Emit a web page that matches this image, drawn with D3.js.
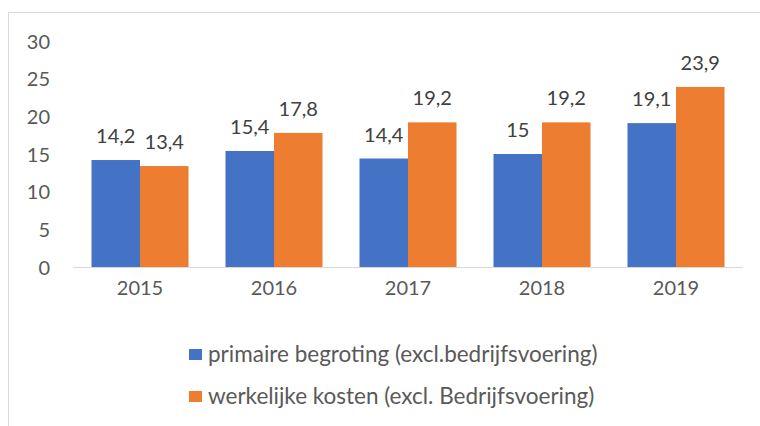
<!DOCTYPE html>
<html lang="nl">
<head>
<meta charset="utf-8">
<title>Begroting vs kosten</title>
<script src="https://cdn.jsdelivr.net/npm/d3@7"></script>
<style>
  body { margin: 0; background: #fff; }
  svg text { font-family: Lato, "Open Sans", sans-serif; }
  .tick text { fill: #595959; font-size: 20px; }
  .label { fill: #404040; font-size: 20px; text-anchor: middle; }
  .legend text { fill: #595959; font-size: 22.5px; }
</style>
</head>
<body>
<div id="chart"></div>
<script>
// data
var years = ["2015", "2016", "2017", "2018", "2019"];
var primair = [14.2, 15.4, 14.4, 15, 19.1];
var werkelijk = [13.4, 17.8, 19.2, 19.2, 23.9];
var seriesNames = ["primaire begroting (excl.bedrijfsvoering)", "werkelijke kosten (excl. Bedrijfsvoering)"];
var yTicks = [0, 5, 10, 15, 20, 25, 30];

var W = 760, H = 426;
var margin = {top: 41, left: 73, right: 17, bottom: 159};
var width = W - margin.left - margin.right;
var height = H - margin.top - margin.bottom;

var colors = ["#4472C4", "#ED7D31"];
var fmt = function(v) { return String(v).replace(".", ","); };

var svg = d3.select("#chart").append("svg")
  .attr("width", W).attr("height", H);

// outer frame (runs off the right and bottom edges)
svg.append("rect")
  .attr("x", 8.5).attr("y", 12.5)
  .attr("width", W + 20).attr("height", H + 20)
  .attr("fill", "none").attr("stroke", "#d9d9d9");

var g = svg.append("g").attr("transform", "translate(" + margin.left + "," + margin.top + ")");

var x = d3.scaleBand().domain(years).range([0, width]).paddingInner(0.276).paddingOuter(0.138);
var xs = d3.scaleBand().domain([0, 1]).range([0, x.bandwidth()]);
var y = d3.scaleLinear().domain([0, 30]).range([height, 0]);

// y axis, labels only
var yAxis = g.append("g")
  .call(d3.axisLeft(y).tickValues(yTicks).tickSize(0).tickPadding(23));
yAxis.select(".domain").remove();
yAxis.selectAll(".tick text").attr("dy", "0.35em");

// x axis
var xAxis = g.append("g")
  .attr("transform", "translate(0," + height + ")")
  .call(d3.axisBottom(x).tickSize(0).tickPadding(14));
xAxis.select(".domain").remove();

var rows = years.map(function(yr, i) { return {year: yr, vals: [primair[i], werkelijk[i]]}; });

var groups = g.selectAll(".yr").data(rows).enter().append("g")
  .attr("transform", function(d) { return "translate(" + x(d.year) + ",0)"; });

groups.selectAll("rect").data(function(d) { return d.vals; }).enter().append("rect")
  .attr("x", function(d, i) { return xs(i); })
  .attr("width", xs.bandwidth())
  .attr("y", function(d) { return y(d); })
  .attr("height", function(d) { return height - y(d); })
  .attr("fill", function(d, i) { return colors[i]; });

groups.selectAll(".label").data(function(d) { return d.vals; }).enter().append("text")
  .attr("class", "label")
  .attr("x", function(d, i) { return xs(i) + xs.bandwidth() / 2; })
  .attr("y", function(d) { return y(d) - 17; })
  .text(fmt);

// baseline
g.append("line")
  .attr("x1", 0).attr("x2", width)
  .attr("y1", height + 0.5).attr("y2", height + 0.5)
  .attr("stroke", "#d9d9d9").attr("stroke-width", 1);

// legend
var legend = svg.append("g").attr("class", "legend");
var items = legend.selectAll("g").data(seriesNames).enter().append("g")
  .attr("transform", function(d, i) { return "translate(189," + (349 + i * 42) + ")"; });
items.append("rect").attr("width", 13).attr("height", 11)
  .attr("fill", function(d, i) { return colors[i]; });
items.append("text").attr("x", 19).attr("y", 5.5).attr("dy", "0.35em").text(function(d) { return d; });
</script>
</body>
</html>
